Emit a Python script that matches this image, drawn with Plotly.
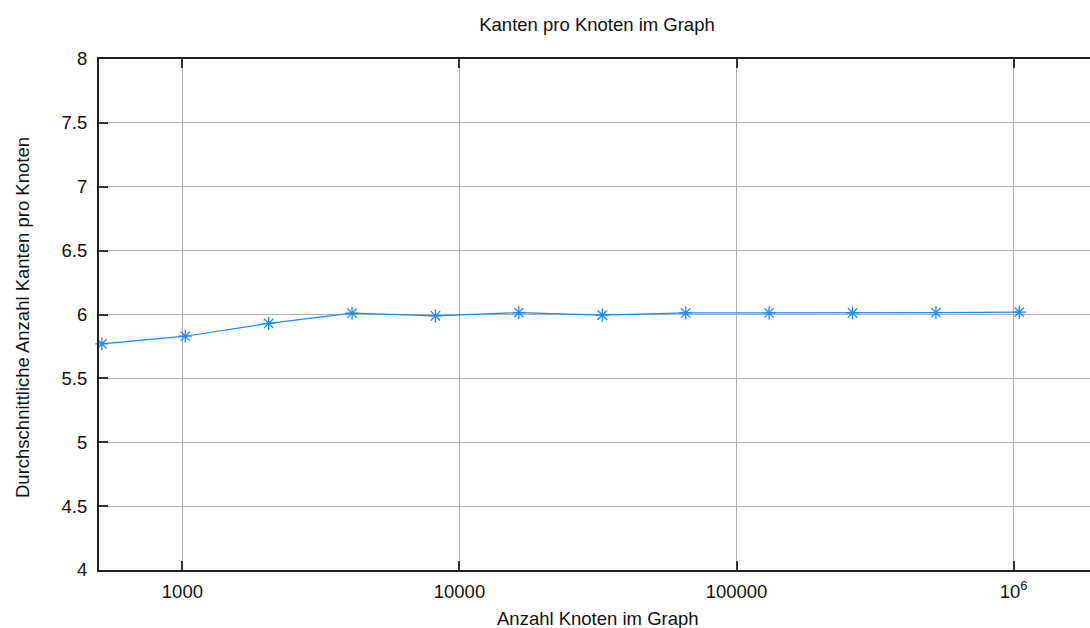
import math
import plotly.graph_objects as go

# Graph sizes (number of nodes) and average edges per node
knoten = [512, 1024, 2048, 4096, 8192, 16384, 32768, 65536, 131072, 262144, 524288, 1048576]
kanten_pro_knoten = [5.77, 5.83, 5.93, 6.01, 5.99, 6.015, 5.995, 6.012, 6.012, 6.012, 6.014, 6.018]

x_tick_vals = [1000, 10000, 100000, 1000000]
x_tick_text = ["1000", "10000", "100000", "10<sup>6</sup>"]
y_tick_vals = [4, 4.5, 5, 5.5, 6, 6.5, 7, 7.5, 8]
y_tick_text = ["4", "4.5", "5", "5.5", "6", "6.5", "7", "7.5", "8"]

W, H = 1090, 628
ML, MR, MT, MB = 99, 0, 59, 58
FONT = "Liberation Sans, Arial, sans-serif"
FS = 18.5
BLUE = "#1a8cff"

# log x axis from 500 to 2e6; the right part of the frame falls outside the canvas
x_lo = math.log10(500)
x_hi_full = math.log10(2e6)
full_width = 998
x_hi = x_lo + (x_hi_full - x_lo) * (W - ML - MR) / full_width

fig = go.Figure()
fig.add_trace(go.Scatter(
    x=knoten, y=kanten_pro_knoten,
    mode="lines+markers",
    line=dict(color=BLUE, width=1.2),
    marker=dict(symbol="asterisk-open", size=11, color=BLUE,
                line=dict(color=BLUE, width=1.3)),
    showlegend=False,
    cliponaxis=False,
))

axis_common = dict(
    showgrid=True, gridcolor="#b0b0b0", gridwidth=1,
    showline=True, linecolor="#222222", linewidth=2,
    ticks="inside", ticklen=9, tickwidth=1.5, tickcolor="#333333",
    tickfont=dict(family=FONT, size=FS, color="#111111"),
    zeroline=False,
)

fig.update_xaxes(
    type="log", range=[x_lo, x_hi],
    tickvals=x_tick_vals, ticktext=x_tick_text,
    mirror="allticks", ticklabelstandoff=4,
    **axis_common,
)
fig.update_yaxes(
    range=[4, 8],
    tickvals=y_tick_vals, ticktext=y_tick_text,
    mirror=False, ticklabelstandoff=6,
    **axis_common,
)

fig.update_layout(
    width=W, height=H,
    margin=dict(l=ML, r=MR, t=MT, b=MB),
    paper_bgcolor="white", plot_bgcolor="white",
    font=dict(family=FONT, size=FS, color="#111111"),
    title=dict(text="Kanten pro Knoten im Graph",
               xref="paper", x=(597 - ML) / (W - ML - MR), xanchor="center",
               yref="container", y=1 - 25 / H, yanchor="middle",
               font=dict(family=FONT, size=FS, color="#111111")),
    annotations=[
        dict(text="Anzahl Knoten im Graph", xref="paper", yref="paper",
             x=(598 - ML) / (W - ML - MR), y=-(618 - (H - MB)) / (H - MT - MB),
             xanchor="center", yanchor="middle", showarrow=False,
             font=dict(family=FONT, size=FS, color="#111111")),
        dict(text="Durchschnittliche Anzahl Kanten pro Knoten", xref="paper", yref="paper",
             x=(22.5 - ML) / (W - ML - MR), y=((H - MB) - 317.5) / (H - MT - MB),
             xanchor="center", yanchor="middle", textangle=-90, showarrow=False,
             font=dict(family=FONT, size=FS, color="#111111")),
    ],
)

fig.write_html("out.html")
